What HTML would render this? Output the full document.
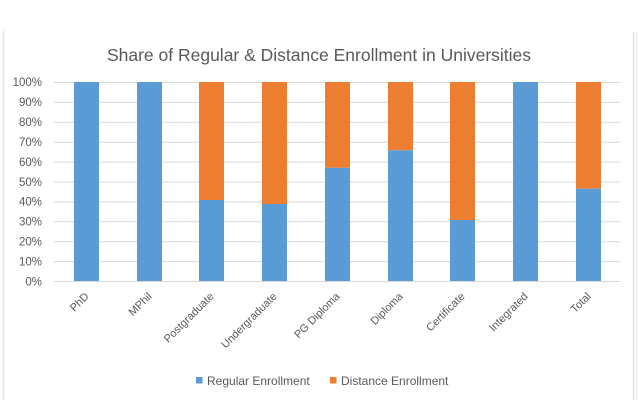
<!DOCTYPE html>
<html><head><meta charset="utf-8"><style>
html,body{margin:0;padding:0;background:#fff;}
svg{display:block;}
text{font-family:"Liberation Sans",Arial,sans-serif;fill:#595959;}
</style></head><body>
<svg width="638" height="400" viewBox="0 0 638 400" xmlns="http://www.w3.org/2000/svg">
<rect width="638" height="400" fill="#fff"/>
<line x1="3.5" y1="31" x2="3.5" y2="400" stroke="#E6E6E6" stroke-width="1.5"/>
<line x1="633.5" y1="32" x2="633.5" y2="400" stroke="#E0E0E0" stroke-width="1.5"/>
<rect x="635" y="32" width="3" height="368" fill="#F3F3F3"/>
<text x="319" y="61" font-size="17.5" text-anchor="middle">Share of Regular &amp; Distance Enrollment in Universities</text>
<g stroke="#D9D9D9" stroke-width="1">
<line x1="54" x2="620" y1="82.5" y2="82.5"/>
<line x1="54" x2="620" y1="102.4" y2="102.4"/>
<line x1="54" x2="620" y1="122.3" y2="122.3"/>
<line x1="54" x2="620" y1="142.2" y2="142.2"/>
<line x1="54" x2="620" y1="162.1" y2="162.1"/>
<line x1="54" x2="620" y1="182" y2="182"/>
<line x1="54" x2="620" y1="201.9" y2="201.9"/>
<line x1="54" x2="620" y1="221.8" y2="221.8"/>
<line x1="54" x2="620" y1="241.7" y2="241.7"/>
<line x1="54" x2="620" y1="261.6" y2="261.6"/>
<line x1="54" x2="620" y1="281.5" y2="281.5"/>
</g>
<g font-size="11.5" text-anchor="end">
<text x="42" y="86">100%</text>
<text x="42" y="106">90%</text>
<text x="42" y="126">80%</text>
<text x="42" y="146">70%</text>
<text x="42" y="166">60%</text>
<text x="42" y="186">50%</text>
<text x="42" y="205.5">40%</text>
<text x="42" y="225.5">30%</text>
<text x="42" y="245.5">20%</text>
<text x="42" y="265.5">10%</text>
<text x="42" y="285.5">0%</text>
</g>
<g>
<!-- PhD -->
<rect x="74" y="82" width="25" height="199" fill="#5B9BD5"/>
<!-- MPhil -->
<rect x="137" y="82" width="25" height="199" fill="#5B9BD5"/>
<!-- Postgraduate 40.7 -->
<rect x="199" y="82" width="25" height="118" fill="#ED7D31"/>
<rect x="199" y="200" width="25" height="81" fill="#5B9BD5"/>
<!-- Undergraduate 38.7 -->
<rect x="262" y="82" width="25" height="122" fill="#ED7D31"/>
<rect x="262" y="204" width="25" height="77" fill="#5B9BD5"/>
<!-- PG Diploma 56.9 -->
<rect x="325" y="82" width="25" height="85.8" fill="#ED7D31"/>
<rect x="325" y="167.8" width="25" height="113.2" fill="#5B9BD5"/>
<!-- Diploma 65.7 -->
<rect x="388" y="82" width="25" height="68.3" fill="#ED7D31"/>
<rect x="388" y="150.3" width="25" height="130.7" fill="#5B9BD5"/>
<!-- Certificate 30.7 -->
<rect x="450" y="82" width="25" height="138" fill="#ED7D31"/>
<rect x="450" y="220" width="25" height="61" fill="#5B9BD5"/>
<!-- Integrated -->
<rect x="513" y="82" width="25" height="199" fill="#5B9BD5"/>
<!-- Total 46.4 -->
<rect x="576" y="82" width="25" height="106.7" fill="#ED7D31"/>
<rect x="576" y="188.7" width="25" height="92.3" fill="#5B9BD5"/>
</g>
<g font-size="11" text-anchor="end">
<text transform="translate(89.5,297) rotate(-45)">PhD</text>
<text transform="translate(152.5,297) rotate(-45)">MPhil</text>
<text transform="translate(214.5,297) rotate(-45)">Postgraduate</text>
<text transform="translate(277.5,297) rotate(-45)">Undergraduate</text>
<text transform="translate(340.5,297) rotate(-45)">PG Diploma</text>
<text transform="translate(403.5,297) rotate(-45)">Diploma</text>
<text transform="translate(465.5,297) rotate(-45)">Certificate</text>
<text transform="translate(528.5,297) rotate(-45)">Integrated</text>
<text transform="translate(591.5,297) rotate(-45)">Total</text>
</g>
<rect x="196" y="377" width="6.5" height="6.5" fill="#5B9BD5"/>
<text x="207" y="385" font-size="12">Regular Enrollment</text>
<rect x="330" y="377" width="6.5" height="6.5" fill="#ED7D31"/>
<text x="341" y="385" font-size="12">Distance Enrollment</text>
</svg>
</body></html>
